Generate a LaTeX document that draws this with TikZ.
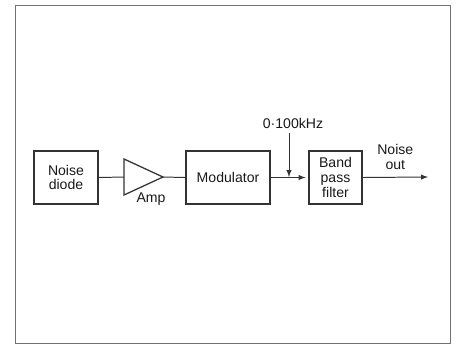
\documentclass[tikz,border=0pt]{standalone}
\usepackage{fontspec}
\setsansfont{Liberation Sans}
\usetikzlibrary{shapes.geometric}

\begin{document}
\begin{tikzpicture}[x=0.025cm, y=-0.025cm, font=\sffamily\fontsize{10}{10.5}\selectfont, >=latex]
        \tikzset{block/.style={draw=black!80, line width=0.9pt, minimum height=1.325cm, align=center, inner sep=0pt, text=black!90}}
        \tikzset{wire/.style={draw=black!80, line width=0.7pt}}

        % Page and frame
        \useasboundingbox (0,0) rectangle (455,345);
        \draw[black!55, line width=0.6pt] (15,5) rectangle (450,343);

        % Blocks
        \node[block, minimum width=1.6cm] (diode) at (66,177.5) {Noise\\diode};
        \node[draw=black!80, line width=0.9pt, isosceles triangle, isosceles triangle stretches,
              minimum width=0.9cm, minimum height=0.975cm, inner sep=0pt, outer sep=0pt,
              anchor=lower side] (amp) at (124,177) {};
        \node[block, minimum width=2.1cm] (mod) at (228,177.5) {Modulator};
        \node[block, minimum width=1.325cm] (bpf) at (335.5,177.5) {Band\\pass\\filter};

        % Labels
        \node[text=black!90] (amplbl) at (151,199) {Amp};
        \node[text=black!90] (freq) at (293,123) {0·100kHz};

        % Tap point and output end
        \coordinate (tap) at (289,177);
        \coordinate (out) at (428,177);

        % Connections
        \draw[wire] (diode.east) -- (amp.lower side);
        \draw[wire] (amp.apex) -- (mod.west);
        \draw[wire, ->, shorten >=2pt] (mod.east) -- (bpf.west);
        \draw[wire, ->] (freq.south -| tap) -- (tap);
        \draw[wire, ->] (bpf.east) -- (out) node[midway, above=2pt, align=center, text=black!90] {Noise\\out};
    \end{tikzpicture}
\end{document}
